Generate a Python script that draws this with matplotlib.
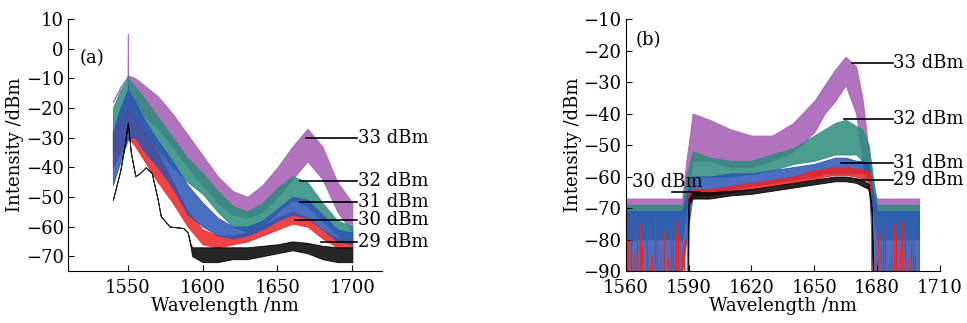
import matplotlib
matplotlib.use("Agg")
import matplotlib.pyplot as plt
import numpy as np

# ---- panel (a): spectra, wavelength / upper / lower envelope (dBm)
a_wl = [1540, 1545, 1549.8, 1550, 1550.2, 1555, 1560, 1570, 1580, 1590, 1600, 1610,
        1620, 1630, 1640, 1650, 1660, 1670, 1680, 1690, 1700]
a33_hi = [-18, -13, -9.5, 5, -9, -10, -12, -16, -22, -29, -36, -43, -48, -50, -46, -40,
          -33, -27, -33, -45, -52]
a33_lo = [-18, -13, -9.5, -9.5, -18, -20, -22, -27, -33, -40, -46, -52, -56, -57, -55,
          -50, -44, -38, -44, -55, -62]
a32_hi = [-20, -14, -10, -9, -10, -13, -16, -23, -30, -37, -42, -48, -53, -55, -52, -47,
          -43, -45, -52, -58, -60]
a32_lo = [-35, -28, -20, -20, -20, -24, -27, -34, -40, -45, -49, -55, -60, -62, -60, -55,
          -51, -53, -58, -63, -65]
a31_hi = [-28, -20, -14, -12, -14, -18, -23, -31, -38, -46, -52, -57, -60, -60, -58, -54,
          -50, -51, -56, -61, -62]
a31_lo = [-46, -38, -31, -31, -30, -30, -34, -40, -47, -56, -60, -63, -64, -63, -61, -58,
          -56, -57, -61, -65, -66]
a30_hi = [-28, -24, -20, -20, -20, -24, -27, -35, -45, -55, -61, -63, -63, -62, -60, -57,
          -55, -57, -61, -64, -64]
a30_lo = [-40, -35, -30, -30, -30, -33, -37, -45, -52, -60, -66, -67, -66, -65, -63, -61,
          -59, -60, -64, -67, -67]
a29_wl = [1540, 1545, 1548, 1550, 1552, 1555, 1558, 1562, 1566, 1570, 1572, 1578, 1587,
          1590, 1592, 1593, 1600, 1610, 1620, 1630, 1640, 1650, 1660, 1670, 1680, 1690, 1700]
a29_hi = [-51, -41, -32, -25, -35, -43, -42, -40, -42, -51, -56.5, -60, -60.5, -62, -66,
          -67, -67, -67, -67, -67, -66.5, -66, -65, -65.5, -66.5, -67, -67]
a29_lo = [-51, -41, -32, -25, -35, -43, -42, -40, -42, -51, -56.5, -60, -60.5, -62, -67,
          -70, -72, -72, -71, -71, -70, -69, -68, -69, -71, -72, -72]

# ---- panel (b)
b_wl = [1560, 1587, 1589, 1592, 1600, 1610, 1620, 1630, 1640, 1650, 1655, 1660, 1665,
        1670, 1673, 1676, 1678, 1680, 1700]
b33_hi = [-67, -67, -55, -40, -42, -45, -47, -47, -43, -36, -31, -26, -22, -25, -35,
          -52, -63, -67, -67]
b33_lo = [-72, -72, -68, -55, -55, -57, -57, -55, -52, -46, -40, -36, -31, -40, -55,
          -65, -70, -72, -72]
b32_hi = [-69, -69, -60, -52, -54, -55, -55, -53, -51, -47, -45, -43, -42, -44, -45,
          -50, -60, -69, -69]
b32_lo = [-80, -80, -70, -60, -60, -60, -59, -58, -56, -55, -54, -53, -53, -53, -55,
          -62, -70, -80, -80]
b31_hi = [-71, -71, -66, -60, -60, -59, -59, -58, -57, -56, -55, -54, -54, -55, -55,
          -56, -65, -71, -71]
b31_lo = [-90, -90, -80, -66, -65, -64, -63, -62, -61, -60, -59, -59, -59, -59, -59,
          -59, -90, -90, -90]
b30_wl = [1589.4, 1589.6, 1592, 1600, 1610, 1620, 1630, 1640, 1650, 1655, 1660, 1665,
          1670, 1675, 1676.5, 1677, 1677.3]
b30_hi = [-90, -66, -64, -64, -63, -62, -61, -60, -58, -57.5, -57, -57, -57.5, -58, -59, -65, -90]
b30_lo = [-90, -68, -66, -66, -65, -64, -63, -62, -61, -60, -59.5, -59.5, -60, -61, -62, -70, -90]
b29_wl = [1589.8, 1590, 1592, 1600, 1610, 1620, 1630, 1640, 1650, 1655, 1660, 1665,
          1670, 1673, 1676, 1677.5, 1678]
b29_hi = [-90, -67, -65, -65, -64.5, -64, -63, -62, -61, -60.5, -60, -60, -60.5, -61, -62.5, -70, -90]
b29_lo = [-90, -69, -67, -67, -66, -65.5, -64.5, -63.5, -62.5, -62, -61.5, -61.5, -62, -63, -64, -72, -90]
# red noise spikes outside the band (wavelength, top)
b30_spike_wl = [1561, 1562.5, 1564, 1565.5, 1567, 1568, 1570, 1571.5, 1572.5, 1574,
                1575, 1577, 1578.5, 1580, 1581.5, 1582.5, 1584, 1585, 1587, 1588,
                1680.5, 1682, 1683, 1684, 1685.5, 1686.5, 1688, 1689, 1691, 1692,
                1693.5, 1695, 1696, 1697, 1698]
b30_spike_top = [-80, -72, -84, -78, -75, -82, -76, -88, -85, -73, -79, -83, -77, -86,
                 -77, -81, -74, -78, -84, -80, -78, -82, -73, -76, -87, -84, -75, -79,
                 -83, -74, -77, -86, -81, -76, -85]

PURPLE = "#A55BB3"
TEAL = "#2B8C7C"
BLUE = "#2A55B5"
RED = "#EE2222"
BLACK = "#000000"

plt.rcParams["font.family"] = "DejaVu Serif"
plt.rcParams["font.size"] = 13


def band(ax, wl, hi, lo, color):
    ax.fill_between(wl, lo, hi, color=color, alpha=0.85, lw=0.7, edgecolor=color)


def style(ax):
    for s in ("top", "right"):
        ax.spines[s].set_visible(False)
    ax.tick_params(direction="in", length=4, width=0.8)
    ax.tick_params(axis="x", pad=6)
    ax.tick_params(axis="y", pad=3)
    ax.set_xlabel("Wavelength /nm", labelpad=0)
    ax.set_ylabel("Intensity /dBm", labelpad=1)


fig = plt.figure(figsize=(9.67, 3.23), dpi=100)
ax1 = fig.add_axes([0.0703, 0.161, 0.325, 0.780])
ax2 = fig.add_axes([0.647, 0.161, 0.325, 0.780])

# (a)
band(ax1, a_wl, a33_hi, a33_lo, PURPLE)
band(ax1, a_wl, a32_hi, a32_lo, TEAL)
band(ax1, a_wl, a30_hi, a30_lo, RED)
band(ax1, a_wl, a31_hi, a31_lo, BLUE)
band(ax1, a29_wl, a29_hi, a29_lo, BLACK)
ax1.set_xlim(1510, 1720)
ax1.set_ylim(-75, 10)
ax1.set_xticks([1550, 1600, 1650, 1700])
ax1.set_yticks(np.arange(-70, 11, 10))
style(ax1)
ax1.text(1518, -3, "(a)", va="center")
a_labels = [("33 dBm", -30, 1669), ("32 dBm", -44.8, 1665), ("31 dBm", -51.8, 1665),
            ("30 dBm", -57.9, 1662), ("29 dBm", -65.2, 1679)]
for txt, yv, x0 in a_labels:
    ax1.plot([x0, 1703], [yv, yv], color="black", lw=1.2)
    ax1.text(1703.5, yv, txt, va="center", ha="left")

# (b)
band(ax2, b_wl, b33_hi, b33_lo, PURPLE)
band(ax2, b_wl, b32_hi, b32_lo, TEAL)
band(ax2, b_wl, b31_hi, b31_lo, BLUE)
ax2.vlines(b30_spike_wl, -90, b30_spike_top, color=RED, lw=0.8)
band(ax2, b30_wl, b30_hi, b30_lo, RED)
band(ax2, b29_wl, b29_hi, b29_lo, BLACK)
ax2.set_xlim(1560, 1710)
ax2.set_ylim(-90, -10)
ax2.set_xticks(np.arange(1560, 1711, 30))
ax2.set_yticks(np.arange(-90, -9, 10))
style(ax2)
ax2.text(1565, -16.7, "(b)", va="center")
b_labels = [("33 dBm", -24, 1668), ("32 dBm", -41.8, 1664), ("31 dBm", -55.8, 1663),
            ("29 dBm", -61.1, 1670)]
for txt, yv, x0 in b_labels:
    ax2.plot([x0, 1687.5], [yv, yv], color="black", lw=1.2)
    ax2.text(1687.5, yv, txt, va="center", ha="left", clip_on=False)
ax2.plot([1582, 1595.5], [-64.8, -64.8], color="black", lw=1.2)
ax2.text(1563, -61.6, "30 dBm", va="center", ha="left")

fig.savefig("out.png", dpi=100)
